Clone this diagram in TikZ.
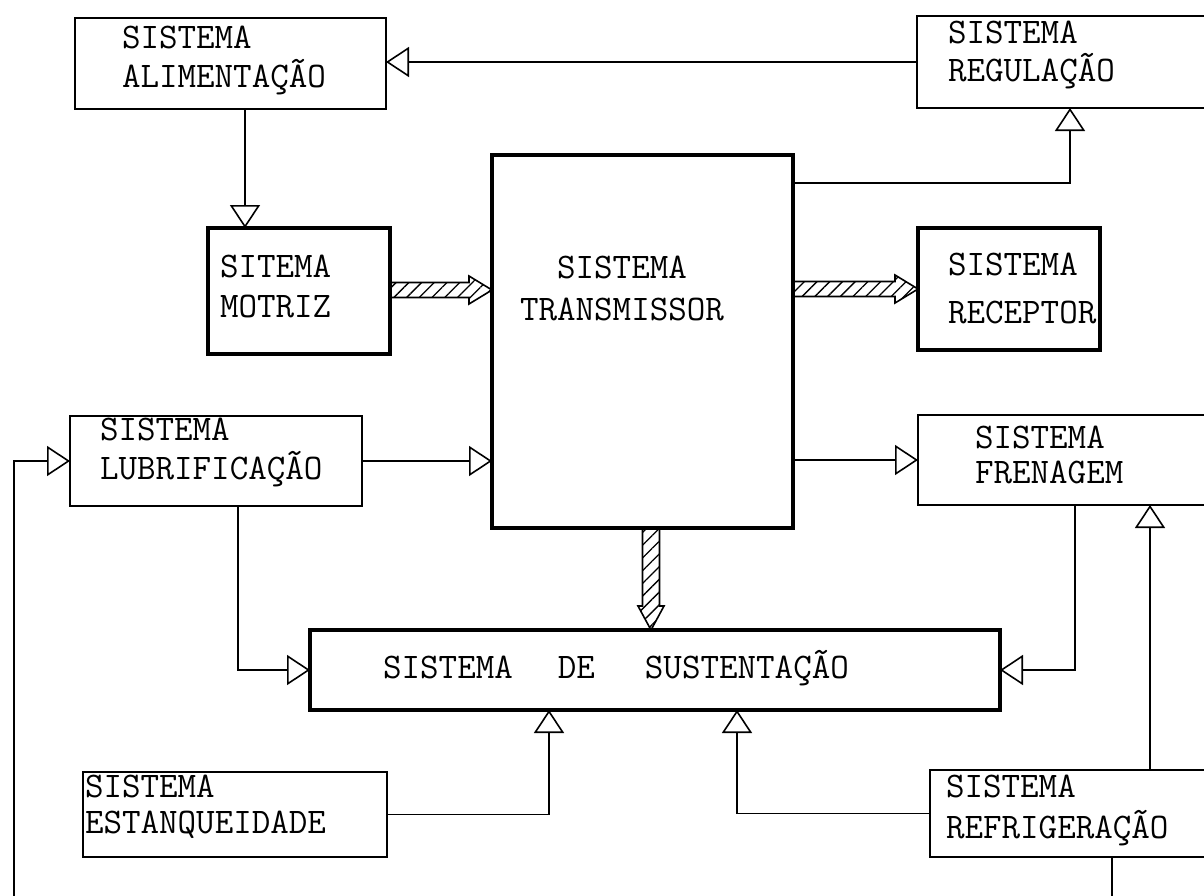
\documentclass[tikz,border=0pt]{standalone}
\usepackage{fontspec}
\usetikzlibrary{arrows.meta,calc,patterns.meta}
\tikzset{
  thinbox/.style={draw, line width=1.8pt, inner sep=0pt, outer sep=0pt},
  thickbox/.style={draw, line width=4.5pt, inner sep=0pt, outer sep=0pt},
  lbl/.style={inner sep=0pt, outer sep=0pt, align=left, anchor=west,
    font=\fontsize{36}{#1}\ttfamily\addfontfeatures{FakeBold=2.5}\selectfont},
  lbl/.default=34,
  conn/.style={line width=1.6pt, -{Triangle[open, length=23pt, width=30pt, line width=1.6pt]}},
  plain/.style={line width=1.6pt},
  fat/.style={line width=1.6pt, pattern={Lines[angle=45,distance=9pt,line width=1.3pt]}},
}
\newcommand\fatarrowH[2]{%
  \draw[fat] ($(#1)+(0,-7.5)$) -- ($(#2)+(-23,-7.5)$) -- ($(#2)+(-23,-14)$) -- (#2)
    -- ($(#2)+(-23,14)$) -- ($(#2)+(-23,7.5)$) -- ($(#1)+(0,7.5)$) -- cycle;}
\newcommand\fatarrowV[2]{%
  \draw[fat] ($(#1)+(-8.5,0)$) -- ($(#2)+(-8.5,-24)$) -- ($(#2)+(-13,-24)$) -- (#2)
    -- ($(#2)+(13,-24)$) -- ($(#2)+(8.5,-24)$) -- ($(#1)+(8.5,0)$) -- cycle;}
\begin{document}
\begin{tikzpicture}[x=1pt,y=-1pt]
\clip (0,0) rectangle (1204,895);
\fill[white] (0,0) rectangle (1204,895);

% boxes
\node[thinbox, minimum width=311pt, minimum height=91pt] (alim) at (230.5,63.5) {};
\node[thinbox, minimum width=323pt, minimum height=92pt] (regul) at (1078.5,62) {};
\node[thickbox, minimum width=182pt, minimum height=126pt] (motriz) at (299,291) {};
\node[thickbox, minimum width=301pt, minimum height=373pt] (trans) at (642.5,341.5) {};
\node[thickbox, minimum width=182pt, minimum height=122pt] (recep) at (1009,289) {};
\node[thinbox, minimum width=292pt, minimum height=90pt] (lubr) at (216,461) {};
\node[thinbox, minimum width=322pt, minimum height=90pt] (fren) at (1079,460) {};
\node[thickbox, minimum width=690pt, minimum height=80pt] (sust) at (655,670) {};
\node[thinbox, minimum width=304pt, minimum height=85pt] (estanq) at (235,814.5) {};
\node[thinbox, minimum width=310pt, minimum height=87pt] (refrig) at (1085,813.5) {};

% labels
\node[lbl=33] (alimT) at (122,61.5) {\strut SISTEMA\\\strut ALIMENTAÇÃO};
\node[lbl=32] (regulT) at (948,56) {\strut SISTEMA\\\strut REGULAÇÃO};
\node[lbl=40] (motrizT) at (220,289) {\strut SITEMA\\\strut MOTRIZ};
\node[lbl=42, align=center, anchor=center] (transT) at (622,291) {\strut SISTEMA\\\strut TRANSMISSOR};
\node[lbl=48] (recepT) at (948,290) {\strut SISTEMA\\\strut RECEPTOR};
\node[lbl=33] (lubrT) at (100,453) {\strut SISTEMA\\\strut LUBRIFICAÇÃO};
\node[lbl=35] (frenT) at (975,459) {\strut SISTEMA\\\strut FRENAGEM};
\node[lbl, anchor=center] (sustT) at (616,668) {SISTEMA\hspace{45pt}DE\hspace{50pt}SUSTENTAÇÃO};
\node[lbl=36] (estanqT) at (85,808) {\strut SISTEMA\\\strut ESTANQUEIDADE};
\node[lbl=40] (refrigT) at (946,810) {\strut SISTEMA\\\strut REFRIGERAÇÃO};

% free ends of the loop leaving the picture
\coordinate (loopL) at (14,900);
\coordinate (loopR) at (1112,900);

% thin connectors
\draw[conn] (regul.west) -- (regul.west -| alim.east);
\draw[conn] (trans.north east |- 0,183) -| ([xshift=-8.5pt]regul.south);
\draw[conn] (alim.south -| 245,0) -- (motriz.north -| 245,0);
\draw[conn] (lubr.east) -- (lubr.east -| trans.west);
\draw[conn] (fren.west -| trans.east) -- (fren.west);
\draw[conn] (lubr.south -| 238,0) |- (sust.west);
\draw[conn] (fren.south -| 1075,0) |- (sust.east);
\draw[conn] (estanq.east) -| (sust.south -| 549,0);
\draw[conn] (refrig.west) -| (sust.south -| 737,0);
\draw[conn] (refrig.north -| 1150,0) -- (fren.south -| 1150,0);
\draw[plain] (refrig.south -| loopR) -- (loopR);
\draw[conn] (loopL) |- (lubr.west);

% hatched arrows
\coordinate (h1s) at (motriz.east |- 0,290);
\coordinate (h1e) at (trans.west |- 0,290);
\fatarrowH{h1s}{h1e}
\coordinate (h2s) at (trans.east |- 0,289);
\coordinate (h2e) at (recep.west |- 0,289);
\fatarrowH{h2s}{h2e}
\coordinate (h3s) at (trans.south -| 651,0);
\coordinate (h3e) at (sust.north -| 651,0);
\fatarrowV{h3s}{h3e}
\end{tikzpicture}
\end{document}
